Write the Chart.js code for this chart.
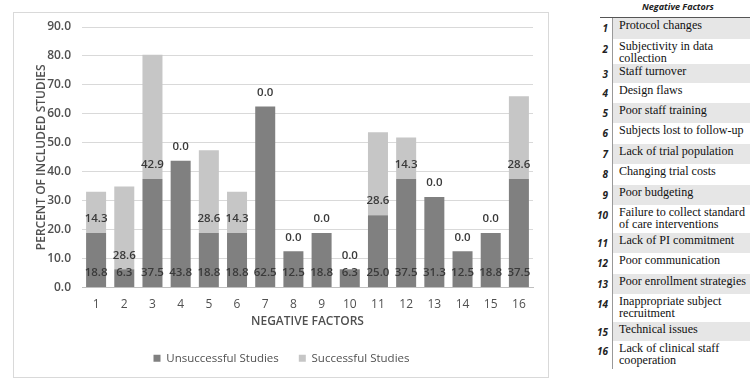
<!DOCTYPE html>
<html>
<head>
<meta charset="utf-8">
<script src="https://cdn.jsdelivr.net/npm/chart.js@4.4.1/dist/chart.umd.min.js"></script>
<style>
  body { margin: 0; background: #fff; width: 750px; height: 389px; overflow: hidden; position: relative; }
  #box { position: absolute; left: 13px; top: 12px; width: 536px; height: 366px; border: 1px solid #d9d9d9; box-sizing: border-box; }
  #legendTable { position: absolute; left: 600px; top: 0; width: 150px; }
  #legendTable .head { position: absolute; left: 42px; top: 0; font: italic bold 9px "Open Sans", sans-serif; color: #222; }
  #legendTable .topline { position: absolute; left: 0; top: 17px; width: 150px; height: 1px; background: #555; }
  #rows { position: absolute; left: 0; top: 18px; width: 150px; }
  .row { position: relative; width: 150px; }
  .row .num { position: absolute; right: 142px; top: 3px; font: italic bold 10px "Open Sans", sans-serif; color: #222; }
  .row .txt { position: absolute; left: 13px; right: 0; top: 0; bottom: 0; padding: 1px 0 0 6px; font: 12.1px "Liberation Serif", serif; line-height: 12px; color: #111; }
  .row.shade .txt { background: #e6e6e6; }
  .row .bar { position: absolute; left: 12px; top: 0; bottom: 0; width: 1px; background: #999; }
</style>
</head>
<body>
<div id="box"><canvas id="chart"></canvas></div>
<div id="legendTable">
  <div class="head">Negative Factors</div>
  <div class="topline"></div>
  <div id="rows"></div>
</div>
<script>
// data
const factors = ['1','2','3','4','5','6','7','8','9','10','11','12','13','14','15','16'];
const unsuccessful = [18.8, 6.3, 37.5, 43.8, 18.8, 18.8, 62.5, 12.5, 18.8, 6.3, 25.0, 37.5, 31.3, 12.5, 18.8, 37.5];
const successful = [14.3, 28.6, 42.9, 0.0, 28.6, 14.3, 0.0, 0.0, 0.0, 0.0, 28.6, 14.3, 0.0, 0.0, 0.0, 28.6];
const factorNames = [
    'Protocol changes',
    'Subjectivity in data collection',
    'Staff turnover',
    'Design flaws',
    'Poor staff training',
    'Subjects lost to follow-up',
    'Lack of trial population',
    'Changing trial costs',
    'Poor budgeting',
    'Failure to collect standard of care interventions',
    'Lack of PI commitment',
    'Poor communication',
    'Poor enrollment strategies',
    'Inappropriate subject recruitment',
    'Technical issues',
    'Lack of clinical staff cooperation'
];

// side table
const rowHeights = [21, 25, 19, 20, 20, 21, 20, 21, 20, 28, 20, 21, 20, 28, 19, 28];
let rowsDiv = document.getElementById('rows');
factorNames.forEach(function(name, i) {
    let r = document.createElement('div');
    r.className = 'row' + (i % 2 == 0 ? ' shade' : '');
    r.style.height = rowHeights[i] + 'px';
    r.innerHTML = '<span class="num">' + factors[i] + '</span><div class="bar"></div><div class="txt">' + name + '</div>';
    rowsDiv.appendChild(r);
});

// value labels at the base of each segment
const baseLabels = {
    id: 'baseLabels',
    afterDatasetsDraw(chart) {
        let ctx = chart.ctx;
        ctx.save();
        ctx.font = '600 11.5px "Open Sans", sans-serif';
        ctx.fillStyle = '#3a3a3a';
        ctx.textAlign = 'center';
        ctx.textBaseline = 'middle';
        chart.data.datasets.forEach(function(ds, i) {
            chart.getDatasetMeta(i).data.forEach(function(bar, j) {
                let p = bar.getProps(['x', 'base'], true);
                ctx.fillText(ds.data[j].toFixed(1), p.x, p.base - 14);
            });
        });
        ctx.restore();
    }
};

const grey = '#505050';
new Chart(document.getElementById('chart'), {
    type: 'bar',
    data: {
        labels: factors,
        datasets: [
            { label: 'Unsuccessful Studies', data: unsuccessful, backgroundColor: '#808080' },
            { label: 'Successful Studies', data: successful, backgroundColor: '#c6c6c6' }
        ]
    },
    options: {
        responsive: true,
        maintainAspectRatio: false,
        animation: false,
        datasets: { bar: { categoryPercentage: 1, barPercentage: 0.71 } },
        layout: { padding: { left: 16, right: 15, top: 14, bottom: 3 } },
        plugins: {
            legend: {
                position: 'bottom',
                labels: { boxWidth: 7, boxHeight: 7, padding: 20, color: grey,
                    font: { family: 'Open Sans', size: 11.5 } }
            },
            tooltip: { enabled: false }
        },
        scales: {
            x: {
                stacked: true,
                grid: { display: false },
                border: { color: '#bfbfbf' },
                ticks: { color: grey, padding: 2, font: { family: 'Open Sans', size: 12 } },
                title: { display: true, text: 'NEGATIVE FACTORS', color: grey,
                    font: { family: 'Open Sans', size: 12, weight: '600' }, padding: { top: 4 } },
                afterFit: function(scale) { scale.height = 45; }
            },
            y: {
                stacked: true,
                min: 0,
                max: 90,
                grid: { color: '#d9d9d9', drawTicks: false },
                border: { display: false },
                ticks: { stepSize: 10, color: grey, padding: 11,
                    font: { family: 'Open Sans', size: 12, weight: '600' },
                    callback: function(v) { return v.toFixed(1); } },
                title: { display: true, text: 'PERCENT OF INCLUDED STUDIES', color: grey,
                    font: { family: 'Open Sans', size: 12, weight: '600' } },
                afterFit: function(scale) {
                    scale.width = 52;
                    // tick padding would otherwise push the plot top down
                    scale.paddingTop = 0;
                    scale.paddingBottom = 0;
                }
            }
        }
    },
    plugins: [baseLabels]
});
</script>
</body>
</html>
